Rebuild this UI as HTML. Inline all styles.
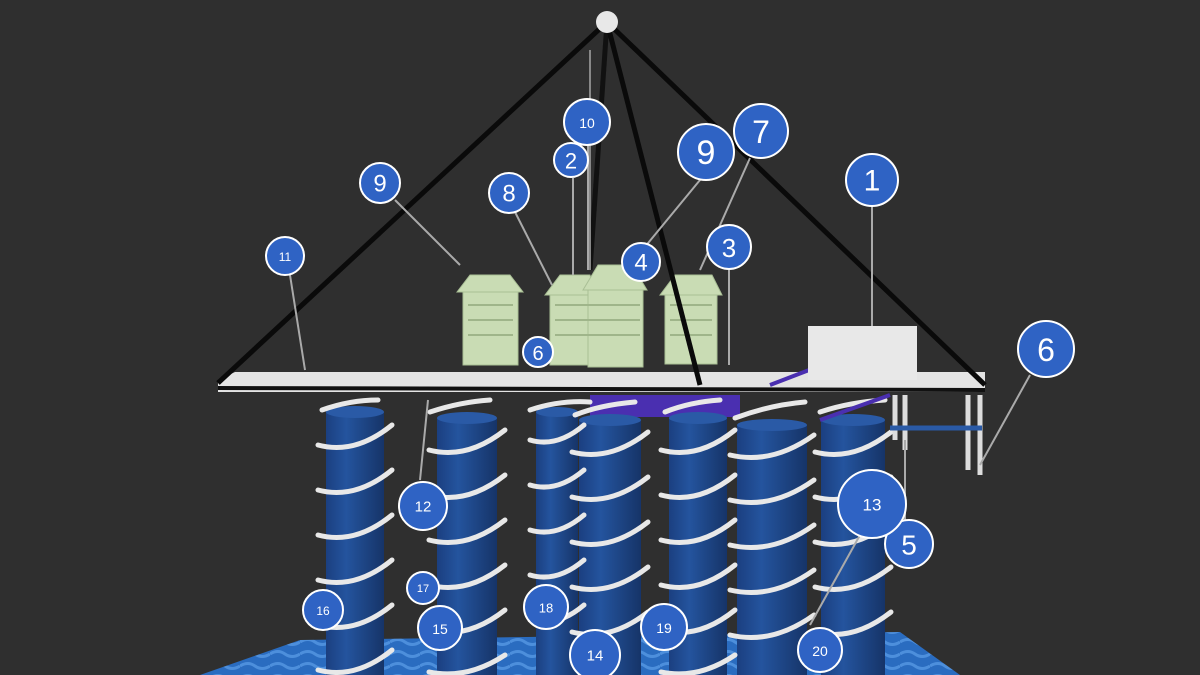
<!DOCTYPE html>
<html><head><style>
html,body{margin:0;padding:0;background:#2f2f2f;}
svg{display:block}
text{font-family:"Liberation Sans",sans-serif;fill:#fff;text-anchor:middle;dominant-baseline:central}
</style></head><body>
<svg width="1200" height="675" viewBox="0 0 1200 675">
<defs>
<linearGradient id="cyl" x1="0" x2="1" y1="0" y2="0">
<stop offset="0" stop-color="#1b3f80"/><stop offset="0.35" stop-color="#24549e"/><stop offset="1" stop-color="#163468"/>
</linearGradient>
<pattern id="water" width="30" height="12" patternUnits="userSpaceOnUse">
<rect width="30" height="12" fill="#2a6cc0"/><path d="M0 6 Q8 1 15 6 T30 6" stroke="#4d8fdc" stroke-width="3" fill="none"/>
</pattern>
</defs>
<rect width="1200" height="675" fill="#2f2f2f"/>
<!-- water -->
<path d="M200 675 L300 640 L900 632 L960 675 Z" fill="url(#water)"/>
<!-- back pyramid edge -->
<line x1="607" y1="22" x2="590" y2="270" stroke="#111" stroke-width="5"/>
<line x1="590" y1="50" x2="590" y2="270" stroke="#888" stroke-width="2"/>
<!-- under-platform purple -->
<rect x="590" y="395" width="150" height="22" fill="#4a2fb0"/>
<!-- cylinders -->
<g id="cyls">
<g>
<rect x="326" y="412" width="58" height="263" fill="url(#cyl)"/><ellipse cx="355" cy="412" rx="29" ry="6" fill="#2a5aa6"/>
<rect x="437" y="418" width="60" height="257" fill="url(#cyl)"/><ellipse cx="467" cy="418" rx="30" ry="6" fill="#2a5aa6"/>
<rect x="536" y="412" width="42" height="263" fill="url(#cyl)"/><ellipse cx="557" cy="412" rx="21" ry="5" fill="#2a5aa6"/>
<rect x="579" y="420" width="62" height="255" fill="url(#cyl)"/><ellipse cx="610" cy="420" rx="31" ry="6" fill="#2a5aa6"/>
<rect x="669" y="418" width="58" height="257" fill="url(#cyl)"/><ellipse cx="698" cy="418" rx="29" ry="6" fill="#2a5aa6"/>
<rect x="737" y="425" width="70" height="250" fill="url(#cyl)"/><ellipse cx="772" cy="425" rx="35" ry="6" fill="#2a5aa6"/>
<rect x="821" y="420" width="64" height="255" fill="url(#cyl)"/><ellipse cx="853" cy="420" rx="32" ry="6" fill="#2a5aa6"/>
</g>
<g stroke="#e8e8e8" stroke-width="5" fill="none" stroke-linecap="round">
<path d="M318 445 Q355 455 392 425 M318 490 Q355 500 392 470 M318 535 Q355 545 392 515 M318 580 Q355 590 392 560 M318 625 Q355 635 392 605 M318 670 Q355 680 392 650"/>
<path d="M429 450 Q467 460 505 430 M429 495 Q467 505 505 475 M429 540 Q467 550 505 520 M429 585 Q467 595 505 565 M429 630 Q467 640 505 610 M429 672 Q467 680 505 655"/>
<path d="M530 440 Q557 448 584 425 M530 485 Q557 493 584 470 M530 530 Q557 538 584 515 M530 575 Q557 583 584 560 M530 620 Q557 628 584 605"/>
<path d="M572 452 Q610 462 648 432 M572 497 Q610 507 648 477 M572 542 Q610 552 648 522 M572 587 Q610 597 648 567 M572 632 Q610 642 648 612"/>
<path d="M661 450 Q698 460 735 430 M661 495 Q698 505 735 475 M661 540 Q698 550 735 520 M661 585 Q698 595 735 565 M661 630 Q698 640 735 610 M661 672 Q698 680 735 655"/>
<path d="M730 455 Q772 465 814 435 M730 500 Q772 510 814 480 M730 545 Q772 555 814 525 M730 590 Q772 600 814 570 M730 635 Q772 645 814 615"/>
<path d="M815 452 Q853 462 891 432 M815 497 Q853 507 891 477 M815 542 Q853 552 891 522 M815 587 Q853 597 891 567 M815 632 Q853 642 891 612"/>
<path d="M322 410 Q350 400 378 400 M430 412 Q460 402 490 400 M530 410 Q560 400 590 402 M575 415 Q600 405 635 402 M665 412 Q690 402 720 400 M735 418 Q770 405 805 402 M820 412 Q850 402 885 400"/>
</g>
</g>
<!-- right frame -->
<g stroke="#ddd" stroke-width="5" fill="none">
<path d="M895 395 L895 440 M905 395 L905 450 M968 395 L968 470 M980 395 L980 475"/>
</g>
<line x1="890" y1="428" x2="982" y2="428" stroke="#2a5aa6" stroke-width="5"/>
<!-- platform -->
<path d="M218 380 L235 372 L985 372 L985 392 L218 392 Z" fill="#e4e4e4"/>
<path d="M218 388 L985 390" stroke="#111" stroke-width="4"/>
<line x1="770" y1="385" x2="830" y2="362" stroke="#4a2fb0" stroke-width="4"/>
<line x1="820" y1="420" x2="890" y2="395" stroke="#4a2fb0" stroke-width="4"/>
<!-- buildings -->
<g fill="#c9dcb4" stroke="#a9bf95" stroke-width="1">
<rect x="463" y="290" width="55" height="75"/><path d="M457 292 L470 275 L510 275 L523 292 Z"/>
<rect x="550" y="290" width="40" height="75"/><path d="M545 295 L560 275 L590 275 L595 295 Z"/>
<rect x="588" y="285" width="55" height="82"/><path d="M583 290 L598 265 L632 265 L647 290 Z"/>
<rect x="665" y="292" width="52" height="72"/><path d="M660 295 L675 275 L712 275 L722 295 Z"/>
</g>
<g stroke="#9fb58a" stroke-width="2">
<path d="M468 305 H513 M468 320 H513 M468 335 H513 M555 305 H640 M555 320 H640 M555 335 H640 M670 305 H712 M670 320 H712 M670 335 H712"/>
</g>
<!-- box -->
<rect x="808" y="326" width="109" height="54" fill="#e8e8e8"/>
<!-- pyramid -->
<g stroke="#0a0a0a" stroke-width="5" fill="none">
<line x1="607" y1="22" x2="218" y2="383"/>
<line x1="607" y1="22" x2="985" y2="385"/>
<line x1="607" y1="22" x2="700" y2="385"/>
</g>
<circle cx="607" cy="22" r="11" fill="#e8e8e8"/>
<!-- leader lines -->
<g stroke="#aaa" stroke-width="2">
<line x1="872" y1="205" x2="872" y2="326"/>
<line x1="573" y1="178" x2="573" y2="275"/>
<line x1="729" y1="270" x2="729" y2="365"/>
<line x1="588" y1="145" x2="588" y2="270"/>
<line x1="395" y1="200" x2="460" y2="265"/>
<line x1="700" y1="180" x2="630" y2="265"/>
<line x1="750" y1="158" x2="700" y2="270"/>
<line x1="515" y1="212" x2="552" y2="285"/>
<line x1="290" y1="275" x2="305" y2="370"/>
<line x1="1030" y1="375" x2="980" y2="465"/>
<line x1="905" y1="525" x2="905" y2="440"/>
<line x1="860" y1="535" x2="810" y2="625"/>
<line x1="420" y1="480" x2="428" y2="400"/>
</g>
<!-- labels -->
<g fill="#2f63c4" stroke="#fff" stroke-width="2">
<circle cx="872" cy="180" r="26"/><circle cx="571" cy="160" r="17"/><circle cx="729" cy="247" r="22"/>
<circle cx="641" cy="262" r="19"/><circle cx="909" cy="544" r="24"/><circle cx="1046" cy="349" r="28"/>
<circle cx="761" cy="131" r="27"/><circle cx="509" cy="193" r="20"/><circle cx="380" cy="183" r="20"/>
<circle cx="706" cy="152" r="28"/><circle cx="587" cy="122" r="23"/><circle cx="285" cy="256" r="19"/>
<circle cx="423" cy="506" r="24"/><circle cx="872" cy="504" r="34"/><circle cx="595" cy="655" r="25"/>
<circle cx="440" cy="628" r="22"/><circle cx="323" cy="610" r="20"/><circle cx="423" cy="588" r="16"/>
<circle cx="546" cy="607" r="22"/><circle cx="664" cy="627" r="23"/><circle cx="820" cy="650" r="22"/>
<circle cx="538" cy="352" r="15"/>
</g>
<text x="872" y="181" font-size="30">1</text>
<text x="571" y="161" font-size="22">2</text>
<text x="729" y="248" font-size="26">3</text>
<text x="641" y="263" font-size="24">4</text>
<text x="909" y="545" font-size="28">5</text>
<text x="1046" y="350" font-size="32">6</text>
<text x="761" y="132" font-size="32">7</text>
<text x="509" y="194" font-size="24">8</text>
<text x="380" y="184" font-size="24">9</text>
<text x="706" y="153" font-size="34">9</text>
<text x="587" y="123" font-size="14">10</text>
<text x="285" y="257" font-size="12">11</text>
<text x="423" y="507" font-size="15">12</text>
<text x="872" y="505" font-size="17">13</text>
<text x="595" y="656" font-size="15">14</text>
<text x="440" y="629" font-size="14">15</text>
<text x="323" y="611" font-size="12">16</text>
<text x="423" y="589" font-size="11">17</text>
<text x="546" y="608" font-size="13">18</text>
<text x="664" y="628" font-size="14">19</text>
<text x="820" y="651" font-size="14">20</text>
<text x="538" y="354" font-size="20">6</text>
</svg>
</body></html>
